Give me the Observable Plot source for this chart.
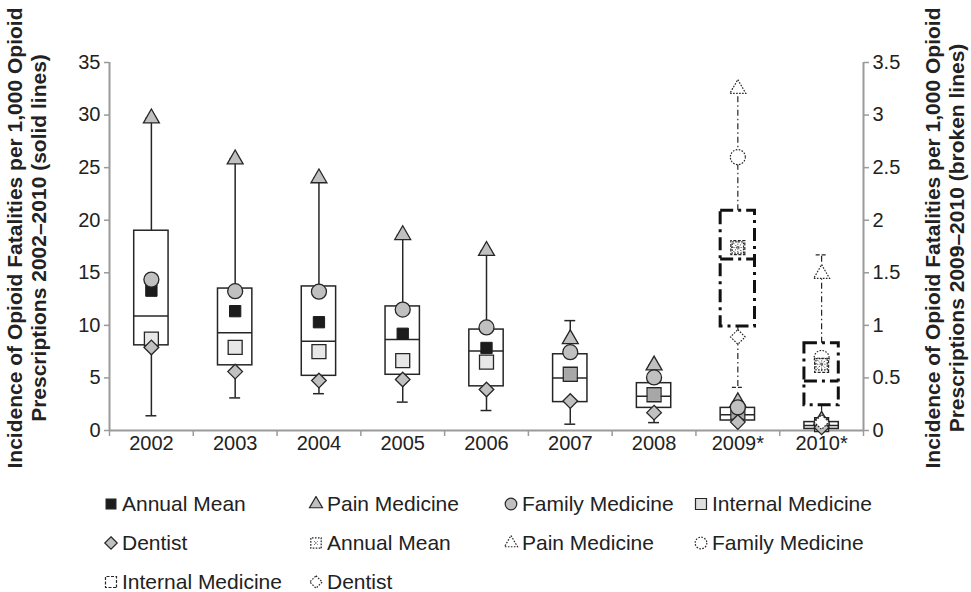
<!DOCTYPE html>
<html>
<head>
<meta charset="utf-8">
<script src="https://cdn.jsdelivr.net/npm/d3@7"></script>
<script src="https://cdn.jsdelivr.net/npm/@observablehq/plot@0.6"></script>
<style>
  html, body { margin: 0; padding: 0; background: #fff; overflow: hidden; }
  #wrap { position: relative; width: 971px; height: 592px; font-family: "Liberation Sans", Arial, sans-serif; color: #222; }
  .ytitle { position: absolute; width: 520px; text-align: center; font-weight: bold; font-size: 21px; line-height: 24px; white-space: nowrap; color: #222; transform: translate(-50%, -50%) rotate(-90deg); }
  #legend { position: absolute; left: 103px; top: 460px; padding-top: 24px; display: grid; grid-template-columns: 205px 195px 190px 200px; grid-auto-rows: 39px; font-size: 21px; color: #222; }
  .item { display: flex; align-items: center; gap: 3px; white-space: nowrap; }
  .item svg { flex: none; }
</style>
</head>
<body>
<div id="wrap"></div>
<script>
// ---------- data ----------
const years = ["2002", "2003", "2004", "2005", "2006", "2007", "2008", "2009*", "2010*"];

// solid lines (left axis, 2002–2010)
const whiskerLow       = [1.4, 3.1, 3.5, 2.7, 1.9, 0.6, 0.75, 0.7, 0.1];
const boxLow           = [8.1, 6.2, 5.2, 5.3, 4.2, 2.7, 2.15, 0.95, 0.15];
const boxMedian        = [10.9, 9.3, 8.5, 8.65, 7.55, 5.0, 3.25, 1.5, 0.48];
const boxHigh          = [19.0, 13.5, 13.7, 11.8, 9.6, 7.25, 4.5, 2.15, 0.8];
const whiskerHigh      = [29.7, 25.8, 24.0, 18.6, 17.1, 10.45, 6.2, 2.7, 0.95];
const annualMean       = [13.3, 11.35, 10.3, 9.2, 7.85, 5.35, 3.4, 1.75, 0.55];
const painMedicine     = [29.7, 25.8, 24.0, 18.6, 17.1, 8.7, 6.2, 2.7, 0.95];
const familyMedicine   = [14.35, 13.25, 13.2, 11.5, 9.8, 7.45, 5.05, 2.2, 0.65];
const internalMedicine = [8.7, 7.9, 7.5, 6.65, 6.5, 5.35, 3.4, 1.75, 0.55];
const dentist          = [7.9, 5.6, 4.75, 4.85, 3.9, 2.8, 1.7, 0.8, 0.3];

// broken lines (right axis, 2009–2010)
const brokenYears            = ["2009*", "2010*"];
const brokenWhiskerLow       = [0.41, 0.1];
const brokenBoxLow           = [0.99, 0.24];
const brokenBoxMedian        = [1.63, 0.47];
const brokenBoxHigh          = [2.09, 0.83];
const brokenWhiskerHigh      = [3.25, 1.67];
const brokenAnnualMean       = [1.74, 0.63];
const brokenPainMedicine     = [3.25, 1.49];
const brokenFamilyMedicine   = [2.6, 0.69];
const brokenInternalMedicine = [1.74, 0.62];
const brokenDentist          = [0.89, 0.08];

// axis ticks
const leftTicks  = [0, 5, 10, 15, 20, 25, 30, 35];
const rightTicks = [0, 0.5, 1, 1.5, 2, 2.5, 3, 3.5];

const leftTitle  = ["Incidence of Opioid Fatalities per 1,000 Opioid", "Prescriptions 2002\u20132010 (solid lines)"];
const rightTitle = ["Incidence of Opioid Fatalities per 1,000 Opioid", "Prescriptions 2009\u20132010 (broken lines)"];

const legendLabels = ["Annual Mean", "Pain Medicine", "Family Medicine", "Internal Medicine", "Dentist",
                      "Annual Mean", "Pain Medicine", "Family Medicine", "Internal Medicine", "Dentist"];

// ---------- derived ----------
const n = years.length;
const ratio = leftTicks[leftTicks.length - 1] / rightTicks[rightTicks.length - 1]; // right -> left units
const HALF = 0.205;   // half box width (category units)
const CAP = 0.065;    // half cap width

const solidRows = years.map((year, i) => ({
  i, year, lo: whiskerLow[i], q1: boxLow[i], med: boxMedian[i], q3: boxHigh[i], hi: whiskerHigh[i]
}));
const brokenRows = brokenYears.map((year, j) => ({
  i: years.indexOf(year), year,
  lo: brokenWhiskerLow[j] * ratio, q1: brokenBoxLow[j] * ratio, med: brokenBoxMedian[j] * ratio,
  q3: brokenBoxHigh[j] * ratio, hi: brokenWhiskerHigh[j] * ratio
}));
const solidPts = (series) => years.map((year, i) => ({ i, v: series[i] }));
const brokenPts = (series) => brokenYears.map((year, j) => ({ i: years.indexOf(year), v: series[j] * ratio }));

const cx = d => d.i + 0.5;
const AX = "#9a9a9a";
const DARK = "#262626";
const GREY = "#c0c0c0";
const dotted = "1.6,1.4";

const solidMarker = (series, symbol, r, extra) =>
  Plot.dot(solidPts(series), { x: cx, y: "v", symbol, r, fill: GREY, stroke: DARK, strokeWidth: 1.3, ...extra });
const brokenMarker = (series, symbol, r, extra) =>
  Plot.dot(brokenPts(series), { x: cx, y: "v", symbol, r, fill: "white", stroke: DARK, strokeWidth: 1.2, strokeDasharray: dotted, ...extra });

const boxDash = "13,5,3,5";
const whiskerDash = "6,3,1.5,3";

const chart = Plot.plot({
  width: 971,
  height: 460,
  marginLeft: 109,
  marginRight: 108,
  marginTop: 62,
  marginBottom: 30,
  style: { fontFamily: "'Liberation Sans', Arial, sans-serif", fontSize: "20px", color: "#222", background: "white", overflow: "visible" },
  x: { type: "linear", domain: [0, n] },
  y: { domain: [0, leftTicks[leftTicks.length - 1]] },
  marks: [
    // axes
    Plot.axisX({ ticks: d3.range(0, n + 1), tickFormat: () => "", tickSize: 6, stroke: AX, strokeWidth: 1.5, label: null }),
    Plot.axisX({ ticks: d3.range(n).map(i => i + 0.5), tickFormat: v => years[Math.round(v - 0.5)], tickSize: 0, tickPadding: 5, fontSize: 20, fill: "#222", label: null }),
    Plot.axisY({ ticks: leftTicks, tickSize: 5, tickPadding: 4, stroke: AX, strokeWidth: 1.5, fill: "#222", fontSize: 20, label: null }),
    Plot.axisY({ anchor: "right", ticks: rightTicks.map(v => v * ratio), tickFormat: v => String(Math.round(v / ratio * 10) / 10), tickSize: 5, tickPadding: 4, stroke: AX, strokeWidth: 1.5, fill: "#222", fontSize: 20, label: null }),
    Plot.ruleX([0, n], { stroke: AX, strokeWidth: 2 }),
    Plot.ruleY([0], { stroke: AX, strokeWidth: 2 }),

    // broken-line boxes and whiskers (right axis)
    Plot.ruleX(brokenRows, { x: cx, y1: "q3", y2: "hi", stroke: DARK, strokeWidth: 1.2, strokeDasharray: whiskerDash }),
    Plot.ruleX(brokenRows, { x: cx, y1: "q1", y2: "lo", stroke: DARK, strokeWidth: 1.2, strokeDasharray: whiskerDash }),
    Plot.ruleY(brokenRows, { y: "hi", x1: d => cx(d) - CAP, x2: d => cx(d) + CAP, stroke: DARK, strokeWidth: 1.2, strokeDasharray: "4,2" }),
    Plot.ruleY(brokenRows, { y: "lo", x1: d => cx(d) - CAP, x2: d => cx(d) + CAP, stroke: DARK, strokeWidth: 1.2, strokeDasharray: "4,2" }),
    Plot.rectY(brokenRows, { x1: d => cx(d) - HALF, x2: d => cx(d) + HALF, y1: "q1", y2: "q3", fill: "none", stroke: "#111", strokeWidth: 3, strokeDasharray: boxDash }),
    Plot.ruleY(brokenRows, { y: "med", x1: d => cx(d) - HALF, x2: d => cx(d) + HALF, stroke: "#111", strokeWidth: 3, strokeDasharray: boxDash }),

    // solid boxes and whiskers (left axis)
    Plot.ruleX(solidRows, { x: cx, y1: "q3", y2: "hi", stroke: DARK, strokeWidth: 1.5 }),
    Plot.ruleX(solidRows, { x: cx, y1: "q1", y2: "lo", stroke: DARK, strokeWidth: 1.5 }),
    Plot.ruleY(solidRows, { y: "hi", x1: d => cx(d) - CAP, x2: d => cx(d) + CAP, stroke: DARK, strokeWidth: 1.5 }),
    Plot.ruleY(solidRows, { y: "lo", x1: d => cx(d) - CAP, x2: d => cx(d) + CAP, stroke: DARK, strokeWidth: 1.5 }),
    Plot.rectY(solidRows, { x1: d => cx(d) - HALF, x2: d => cx(d) + HALF, y1: "q1", y2: "q3", fill: "white", stroke: DARK, strokeWidth: 1.5 }),
    Plot.ruleY(solidRows, { y: "med", x1: d => cx(d) - HALF, x2: d => cx(d) + HALF, stroke: DARK, strokeWidth: 1.5 }),

    // solid markers
    Plot.dot(solidPts(annualMean), { x: cx, y: "v", symbol: "square2", r: 7.2, fill: "#1c1c1c", stroke: "#1c1c1c", strokeWidth: 1 }),
    solidMarker(internalMedicine, "square2", 8.9, { fill: "#dedede", fillOpacity: 0.72 }),
    solidMarker(painMedicine, "triangle2", 7.6),
    solidMarker(familyMedicine, "circle", 7.5),
    solidMarker(dentist, "diamond2", 6.6),

    // broken markers
    brokenMarker(brokenPainMedicine, "triangle2", 7.6),
    brokenMarker(brokenFamilyMedicine, "circle", 7.5),
    brokenMarker(brokenInternalMedicine, "square2", 8.9, { strokeDasharray: "3,1.5" }),
    brokenMarker(brokenAnnualMean, "square2", 7.2),
    Plot.dot(brokenPts(brokenAnnualMean), { x: cx, y: "v", symbol: "times", r: 4, stroke: DARK, strokeWidth: 1, strokeDasharray: "1.2,1.2" }),
    Plot.dot(brokenPts(brokenAnnualMean), { x: cx, y: "v", symbol: "plus", r: 4.5, stroke: DARK, strokeWidth: 0.8, strokeDasharray: "1.2,1.2" }),
    brokenMarker(brokenDentist, "diamond2", 6.6)
  ]
});

const wrap = document.getElementById("wrap");
chart.style.position = "absolute";
chart.style.left = "0px";
chart.style.top = "0px";
wrap.appendChild(chart);

// axis titles
function addTitle(lines, cxPx, cyPx) {
  const div = document.createElement("div");
  div.className = "ytitle";
  div.style.left = cxPx + "px";
  div.style.top = cyPx + "px";
  div.innerHTML = lines.map(l => `<div>${l}</div>`).join("");
  wrap.appendChild(div);
}
addTitle(leftTitle, 27, 238);
addTitle(rightTitle, 945, 238);

// legend
const symbolTypes = { square2: d3.symbolSquare2, triangle2: d3.symbolTriangle2, circle: d3.symbolCircle, diamond2: d3.symbolDiamond2 };
const legendStyles = [
  { s: "square2", r: 6.2, fill: "#1c1c1c", stroke: "#1c1c1c" },
  { s: "triangle2", r: 6.2, fill: GREY, stroke: DARK },
  { s: "circle", r: 5.8, fill: GREY, stroke: DARK },
  { s: "square2", r: 7, fill: "#dedede", stroke: DARK },
  { s: "diamond2", r: 5.6, fill: GREY, stroke: DARK },
  { s: "square2", r: 6.6, fill: "white", stroke: DARK, dash: dotted, pattern: true },
  { s: "triangle2", r: 6.2, fill: "white", stroke: DARK, dash: dotted },
  { s: "circle", r: 5.8, fill: "white", stroke: DARK, dash: dotted },
  { s: "square2", r: 7, fill: "white", stroke: DARK, dash: "3,1.5" },
  { s: "diamond2", r: 5.6, fill: "white", stroke: DARK, dash: dotted }
];
const legend = document.createElement("div");
legend.id = "legend";
legendLabels.forEach((label, k) => {
  const st = legendStyles[k];
  const item = document.createElement("div");
  item.className = "item";
  const path = d3.symbol(symbolTypes[st.s], st.r * st.r * Math.PI)();
  let inner = `<path d="${path}" fill="${st.fill}" stroke="${st.stroke}" stroke-width="1.2" ${st.dash ? `stroke-dasharray="${st.dash}"` : ""}/>`;
  if (st.pattern) {
    inner += `<path d="${d3.symbol(d3.symbolTimes, 12)()}" fill="none" stroke="${DARK}" stroke-width="0.9" stroke-dasharray="1,1"/>`;
  }
  item.innerHTML = `<svg width="16" height="16" viewBox="-8 -8 16 16">${inner}</svg><span>${label}</span>`;
  legend.appendChild(item);
});
wrap.appendChild(legend);
</script>
</body>
</html>
